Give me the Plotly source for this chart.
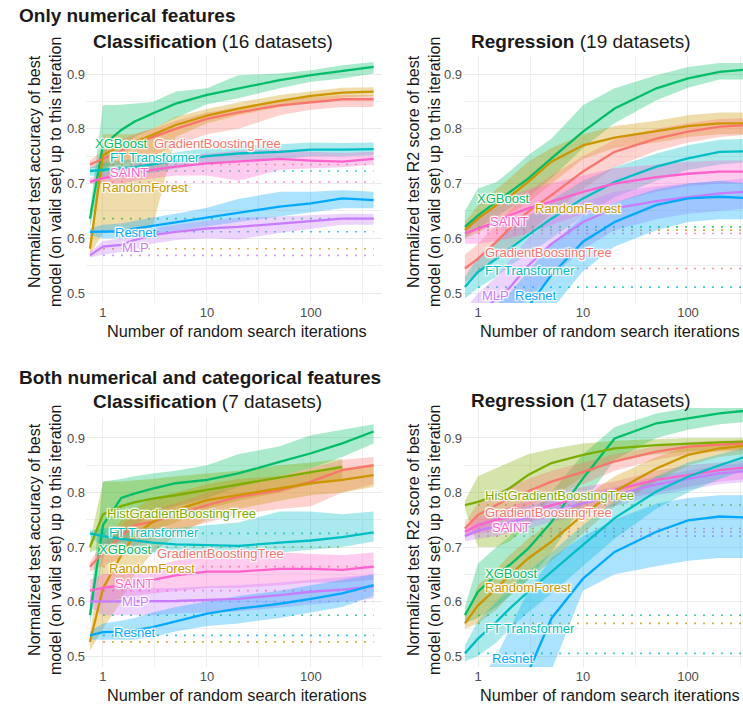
import math
import plotly.graph_objects as go

# ---------------- data ----------------
ITER = [0.75, 1, 1.5, 2, 3, 5, 10, 20, 50, 100, 200, 400]

COLORS = {
    "GradientBoostingTree": "#F8766D",
    "RandomForest": "#CD9600",
    "HistGradientBoostingTree": "#7CAE00",
    "XGBoost": "#00BE67",
    "FT Transformer": "#00BFC4",
    "Resnet": "#00A9FF",
    "MLP": "#C77CFF",
    "SAINT": "#FF61CC",
}

# Panel A: only numerical, classification (16 datasets)
A_XGB = [0.636, 0.770, 0.798, 0.813, 0.828, 0.846, 0.862, 0.874, 0.889, 0.898, 0.905, 0.913]
A_XGB_LO = [0.62, 0.72, 0.76, 0.785, 0.80, 0.82, 0.845, 0.856, 0.874, 0.886, 0.892, 0.901]
A_XGB_HI = [0.65, 0.843, 0.844, 0.846, 0.849, 0.868, 0.874, 0.898, 0.901, 0.907, 0.916, 0.922]
A_GBT = [0.735, 0.745, 0.76, 0.77, 0.785, 0.80, 0.818, 0.83, 0.843, 0.849, 0.854, 0.854]
A_GBT_LO = [0.728, 0.73, 0.735, 0.74, 0.75, 0.77, 0.79, 0.80, 0.825, 0.835, 0.84, 0.84]
A_GBT_HI = [0.742, 0.76, 0.78, 0.79, 0.80, 0.815, 0.83, 0.84, 0.852, 0.858, 0.862, 0.862]
A_RF = [0.581, 0.752, 0.770, 0.776, 0.789, 0.807, 0.824, 0.837, 0.851, 0.860, 0.866, 0.868]
A_RF_LO = [0.57, 0.61, 0.615, 0.615, 0.62, 0.785, 0.81, 0.825, 0.84, 0.85, 0.857, 0.86]
A_RF_HI = [0.59, 0.79, 0.79, 0.79, 0.80, 0.822, 0.836, 0.848, 0.862, 0.869, 0.875, 0.876]
A_FT = [0.723, 0.725, 0.728, 0.73, 0.735, 0.742, 0.75, 0.755, 0.758, 0.762, 0.762, 0.763]
A_FT_LO = [0.715, 0.712, 0.715, 0.717, 0.72, 0.728, 0.737, 0.742, 0.745, 0.75, 0.75, 0.752]
A_FT_HI = [0.73, 0.738, 0.742, 0.745, 0.75, 0.757, 0.765, 0.77, 0.772, 0.775, 0.774, 0.775]
A_SAINT = [0.703, 0.71, 0.715, 0.72, 0.725, 0.731, 0.737, 0.741, 0.745, 0.742, 0.740, 0.745]
A_SAINT_LO = [0.70, 0.70, 0.70, 0.705, 0.71, 0.715, 0.715, 0.705, 0.725, 0.728, 0.73, 0.735]
A_SAINT_HI = [0.71, 0.72, 0.73, 0.735, 0.745, 0.75, 0.755, 0.76, 0.762, 0.758, 0.756, 0.758]
A_RESNET = [0.612, 0.612, 0.613, 0.618, 0.623, 0.630, 0.639, 0.647, 0.658, 0.664, 0.673, 0.670]
A_RESNET_LO = [0.605, 0.60, 0.60, 0.603, 0.607, 0.613, 0.622, 0.630, 0.640, 0.648, 0.655, 0.655]
A_RESNET_HI = [0.618, 0.625, 0.627, 0.632, 0.638, 0.645, 0.656, 0.672, 0.685, 0.685, 0.688, 0.685]
A_MLP = [0.569, 0.585, 0.588, 0.597, 0.606, 0.612, 0.618, 0.621, 0.627, 0.631, 0.636, 0.636]
A_MLP_LO = [0.565, 0.57, 0.575, 0.58, 0.59, 0.597, 0.60, 0.598, 0.61, 0.618, 0.625, 0.625]
A_MLP_HI = [0.575, 0.595, 0.60, 0.61, 0.618, 0.625, 0.632, 0.638, 0.64, 0.642, 0.645, 0.645]

# Panel B: only numerical, regression (19 datasets)
B_XGB = [0.621, 0.642, 0.667, 0.685, 0.709, 0.746, 0.795, 0.837, 0.874, 0.892, 0.904, 0.909]
B_XGB_LO = [0.60, 0.618, 0.64, 0.655, 0.675, 0.71, 0.765, 0.81, 0.852, 0.875, 0.89, 0.89]
B_XGB_HI = [0.65, 0.691, 0.703, 0.722, 0.752, 0.782, 0.843, 0.874, 0.898, 0.913, 0.92, 0.92]
B_RF = [0.615, 0.636, 0.661, 0.676, 0.703, 0.74, 0.770, 0.784, 0.796, 0.805, 0.81, 0.81]
B_RF_LO = [0.60, 0.61, 0.63, 0.645, 0.665, 0.70, 0.745, 0.765, 0.775, 0.785, 0.79, 0.79]
B_RF_HI = [0.63, 0.66, 0.69, 0.71, 0.74, 0.765, 0.79, 0.805, 0.815, 0.825, 0.83, 0.83]
B_GBT = [0.545, 0.563, 0.594, 0.618, 0.649, 0.679, 0.722, 0.758, 0.782, 0.795, 0.804, 0.807]
B_GBT_LO = [0.52, 0.535, 0.56, 0.58, 0.61, 0.645, 0.69, 0.73, 0.76, 0.775, 0.785, 0.79]
B_GBT_HI = [0.57, 0.59, 0.625, 0.65, 0.685, 0.715, 0.75, 0.78, 0.80, 0.81, 0.818, 0.82]
B_FT = [0.511, 0.539, 0.563, 0.581, 0.606, 0.636, 0.673, 0.703, 0.731, 0.746, 0.758, 0.759]
B_FT_LO = [0.49, 0.51, 0.53, 0.55, 0.57, 0.60, 0.64, 0.675, 0.705, 0.725, 0.735, 0.74]
B_FT_HI = [0.53, 0.565, 0.595, 0.615, 0.64, 0.67, 0.705, 0.73, 0.755, 0.77, 0.78, 0.782]
B_SAINT = [0.609, 0.618, 0.630, 0.642, 0.655, 0.667, 0.685, 0.700, 0.712, 0.718, 0.722, 0.722]
B_SAINT_LO = [0.59, 0.59, 0.595, 0.60, 0.61, 0.625, 0.645, 0.665, 0.685, 0.695, 0.70, 0.70]
B_SAINT_HI = [0.625, 0.645, 0.66, 0.675, 0.69, 0.70, 0.715, 0.728, 0.735, 0.74, 0.742, 0.742]
B_MLP = [0.44, 0.46, 0.49, 0.51, 0.55, 0.59, 0.63, 0.655, 0.668, 0.675, 0.682, 0.686]
B_MLP_LO = [0.40, 0.42, 0.44, 0.46, 0.49, 0.53, 0.58, 0.615, 0.635, 0.645, 0.65, 0.655]
B_MLP_HI = [0.47, 0.50, 0.53, 0.56, 0.60, 0.635, 0.665, 0.685, 0.695, 0.70, 0.705, 0.71]
B_RESNET = [0.38, 0.40, 0.43, 0.45, 0.475, 0.533, 0.594, 0.630, 0.661, 0.673, 0.676, 0.673]
B_RESNET_LO = [0.34, 0.36, 0.38, 0.40, 0.42, 0.47, 0.54, 0.585, 0.615, 0.63, 0.635, 0.635]
B_RESNET_HI = [0.42, 0.45, 0.48, 0.50, 0.54, 0.59, 0.64, 0.665, 0.69, 0.70, 0.705, 0.70]

# Panel C: numerical + categorical, classification (7 datasets)
C_XGB = [0.575, 0.74, 0.79, 0.798, 0.807, 0.817, 0.823, 0.835, 0.856, 0.872, 0.89, 0.912]
C_XGB_LO = [0.56, 0.68, 0.72, 0.74, 0.76, 0.775, 0.79, 0.81, 0.83, 0.845, 0.865, 0.89]
C_XGB_HI = [0.59, 0.82, 0.825, 0.83, 0.835, 0.84, 0.85, 0.87, 0.885, 0.905, 0.915, 0.925]
C_HGBT = [0.70, 0.76, 0.775, 0.782, 0.789, 0.795, 0.805, 0.815, 0.828, 0.838, 0.847]
C_HGBT_LO = [0.69, 0.70, 0.71, 0.72, 0.73, 0.745, 0.77, 0.785, 0.80, 0.815, 0.825]
C_HGBT_HI = [0.71, 0.82, 0.82, 0.822, 0.825, 0.83, 0.835, 0.84, 0.85, 0.855, 0.862]
C_GBT = [0.664, 0.69, 0.72, 0.74, 0.746, 0.759, 0.777, 0.792, 0.804, 0.82, 0.841, 0.85]
C_GBT_LO = [0.655, 0.665, 0.68, 0.70, 0.715, 0.73, 0.745, 0.76, 0.77, 0.775, 0.80, 0.815]
C_GBT_HI = [0.672, 0.71, 0.74, 0.76, 0.77, 0.78, 0.80, 0.815, 0.83, 0.845, 0.86, 0.865]
C_RF = [0.526, 0.624, 0.685, 0.722, 0.746, 0.768, 0.786, 0.795, 0.807, 0.817, 0.823, 0.832]
C_RF_LO = [0.51, 0.55, 0.60, 0.65, 0.69, 0.72, 0.75, 0.77, 0.785, 0.795, 0.80, 0.81]
C_RF_HI = [0.54, 0.70, 0.75, 0.77, 0.79, 0.80, 0.815, 0.825, 0.83, 0.84, 0.845, 0.85]
C_FT = [0.725, 0.72, 0.715, 0.712, 0.708, 0.705, 0.703, 0.702, 0.708, 0.712, 0.718, 0.727]
C_FT_LO = [0.72, 0.70, 0.695, 0.69, 0.69, 0.688, 0.685, 0.685, 0.69, 0.695, 0.70, 0.71]
C_FT_HI = [0.73, 0.735, 0.735, 0.735, 0.735, 0.735, 0.74, 0.745, 0.765, 0.765, 0.76, 0.765]
C_SAINT = [0.62, 0.625, 0.63, 0.635, 0.64, 0.648, 0.655, 0.655, 0.66, 0.66, 0.658, 0.664]
C_SAINT_LO = [0.60, 0.60, 0.605, 0.61, 0.615, 0.62, 0.625, 0.625, 0.63, 0.635, 0.635, 0.64]
C_SAINT_HI = [0.64, 0.65, 0.655, 0.66, 0.665, 0.675, 0.685, 0.69, 0.69, 0.688, 0.685, 0.69]
C_MLP = [0.60, 0.60, 0.60, 0.60, 0.60, 0.601, 0.603, 0.605, 0.612, 0.618, 0.622, 0.628]
C_MLP_LO = [0.59, 0.575, 0.575, 0.575, 0.575, 0.578, 0.58, 0.582, 0.59, 0.595, 0.60, 0.605]
C_MLP_HI = [0.61, 0.625, 0.625, 0.625, 0.625, 0.625, 0.628, 0.63, 0.635, 0.64, 0.645, 0.65]
C_RESNET = [0.538, 0.544, 0.545, 0.547, 0.553, 0.563, 0.578, 0.587, 0.596, 0.605, 0.615, 0.63]
C_RESNET_LO = [0.53, 0.53, 0.53, 0.53, 0.535, 0.545, 0.555, 0.56, 0.57, 0.58, 0.59, 0.61]
C_RESNET_HI = [0.545, 0.56, 0.565, 0.57, 0.58, 0.59, 0.60, 0.61, 0.62, 0.63, 0.64, 0.65]

# Panel D: numerical + categorical, regression (17 datasets)
D_XGB = [0.575, 0.618, 0.649, 0.667, 0.697, 0.746, 0.826, 0.899, 0.927, 0.936, 0.945, 0.951]
D_XGB_LO = [0.56, 0.57, 0.59, 0.61, 0.64, 0.69, 0.78, 0.86, 0.90, 0.915, 0.925, 0.93]
D_XGB_HI = [0.59, 0.67, 0.70, 0.72, 0.76, 0.80, 0.87, 0.92, 0.945, 0.955, 0.96, 0.965]
D_HGBT = [0.777, 0.783, 0.795, 0.808, 0.832, 0.854, 0.869, 0.881, 0.887, 0.890, 0.892, 0.893]
D_HGBT_LO = [0.77, 0.70, 0.70, 0.71, 0.74, 0.79, 0.83, 0.86, 0.87, 0.875, 0.878, 0.88]
D_HGBT_HI = [0.785, 0.83, 0.845, 0.855, 0.87, 0.88, 0.89, 0.895, 0.898, 0.90, 0.90, 0.90]
D_GBT = [0.734, 0.759, 0.777, 0.79, 0.802, 0.82, 0.838, 0.857, 0.875, 0.884, 0.888, 0.89]
D_GBT_LO = [0.72, 0.73, 0.745, 0.76, 0.775, 0.795, 0.815, 0.84, 0.86, 0.87, 0.875, 0.878]
D_GBT_HI = [0.745, 0.78, 0.80, 0.81, 0.825, 0.84, 0.855, 0.87, 0.885, 0.892, 0.895, 0.897]
D_SAINT = [0.728, 0.74, 0.75, 0.755, 0.765, 0.777, 0.792, 0.805, 0.823, 0.832, 0.841, 0.847]
D_SAINT_LO = [0.72, 0.725, 0.73, 0.735, 0.745, 0.755, 0.77, 0.785, 0.80, 0.81, 0.82, 0.825]
D_SAINT_HI = [0.735, 0.755, 0.765, 0.775, 0.785, 0.80, 0.81, 0.82, 0.84, 0.85, 0.855, 0.86]
D_MLP = [0.72, 0.73, 0.738, 0.745, 0.755, 0.765, 0.78, 0.795, 0.815, 0.825, 0.835, 0.84]
D_MLP_LO = [0.71, 0.715, 0.72, 0.725, 0.735, 0.745, 0.76, 0.775, 0.795, 0.805, 0.815, 0.82]
D_MLP_HI = [0.73, 0.745, 0.755, 0.765, 0.775, 0.785, 0.80, 0.81, 0.83, 0.84, 0.85, 0.855]
D_RF = [0.56, 0.593, 0.624, 0.648, 0.679, 0.71, 0.759, 0.802, 0.844, 0.869, 0.881, 0.887]
D_RF_LO = [0.55, 0.56, 0.585, 0.61, 0.64, 0.675, 0.725, 0.775, 0.82, 0.85, 0.865, 0.872]
D_RF_HI = [0.57, 0.63, 0.66, 0.685, 0.715, 0.745, 0.79, 0.83, 0.865, 0.885, 0.893, 0.897]
D_FT = [0.505, 0.532, 0.563, 0.587, 0.618, 0.655, 0.704, 0.753, 0.802, 0.829, 0.85, 0.869]
D_FT_LO = [0.49, 0.50, 0.525, 0.55, 0.58, 0.615, 0.665, 0.715, 0.77, 0.80, 0.825, 0.845]
D_FT_HI = [0.52, 0.565, 0.60, 0.625, 0.655, 0.69, 0.74, 0.785, 0.83, 0.855, 0.87, 0.885]
D_RESNET = [0.30, 0.33, 0.37, 0.40, 0.47, 0.569, 0.642, 0.691, 0.728, 0.749, 0.756, 0.754]
D_RESNET_LO = [0.20, 0.22, 0.25, 0.28, 0.35, 0.47, 0.62, 0.65, 0.665, 0.675, 0.68, 0.68]
D_RESNET_HI = [0.42, 0.45, 0.50, 0.55, 0.62, 0.68, 0.72, 0.75, 0.78, 0.79, 0.795, 0.795]

X_TICKS = [1, 10, 100]
Y_TICKS = [0.5, 0.6, 0.7, 0.8, 0.9]

# ---------------- layout settings ----------------
W, H = 743, 705
FONT = "Liberation Sans, Arial, sans-serif"

def px2x(px):
    return px / W

def py2y(py):
    return 1 - py / H

panels = [
    dict(ax="1", xdom=(86, 382), ydom=(56, 303), xr=(-0.163, 2.683), yr=(0.482, 0.933),
         series=[("XGBoost", A_XGB, A_XGB_LO, A_XGB_HI),
                 ("GradientBoostingTree", A_GBT, A_GBT_LO, A_GBT_HI),
                 ("RandomForest", A_RF, A_RF_LO, A_RF_HI),
                 ("FT Transformer", A_FT, A_FT_LO, A_FT_HI),
                 ("SAINT", A_SAINT, A_SAINT_LO, A_SAINT_HI),
                 ("Resnet", A_RESNET, A_RESNET_LO, A_RESNET_HI),
                 ("MLP", A_MLP, A_MLP_LO, A_MLP_HI)],
         labels=[("XGBoost", 0.80, 0.774), ("GradientBoostingTree", 2.96, 0.774),
                 ("FT Transformer", 1.12, 0.748), ("SAINT", 1.12, 0.721),
                 ("RandomForest", 0.94, 0.692), ("Resnet", 1.25, 0.611), ("MLP", 1.46, 0.584)]),
    dict(ax="2", xdom=(463, 743), ydom=(56, 303), xr=(-0.143, 2.524), yr=(0.482, 0.933),
         series=[("XGBoost", B_XGB, B_XGB_LO, B_XGB_HI),
                 ("RandomForest", B_RF, B_RF_LO, B_RF_HI),
                 ("GradientBoostingTree", B_GBT, B_GBT_LO, B_GBT_HI),
                 ("FT Transformer", B_FT, B_FT_LO, B_FT_HI),
                 ("SAINT", B_SAINT, B_SAINT_LO, B_SAINT_HI),
                 ("MLP", B_MLP, B_MLP_LO, B_MLP_HI),
                 ("Resnet", B_RESNET, B_RESNET_LO, B_RESNET_HI)],
         labels=[("XGBoost", 0.94, 0.673), ("RandomForest", 3.34, 0.655), ("SAINT", 1.25, 0.63),
                 ("GradientBoostingTree", 1.12, 0.575), ("FT Transformer", 1.12, 0.542),
                 ("MLP", 1.04, 0.496), ("Resnet", 2.15, 0.496)]),
    dict(ax="3", xdom=(86, 382), ydom=(417, 667), xr=(-0.163, 2.683), yr=(0.48, 0.9385),
         series=[("XGBoost", C_XGB, C_XGB_LO, C_XGB_HI),
                 ("HistGradientBoostingTree", C_HGBT, C_HGBT_LO, C_HGBT_HI),
                 ("GradientBoostingTree", C_GBT, C_GBT_LO, C_GBT_HI),
                 ("RandomForest", C_RF, C_RF_LO, C_RF_HI),
                 ("FT Transformer", C_FT, C_FT_LO, C_FT_HI),
                 ("SAINT", C_SAINT, C_SAINT_LO, C_SAINT_HI),
                 ("MLP", C_MLP, C_MLP_LO, C_MLP_HI),
                 ("Resnet", C_RESNET, C_RESNET_LO, C_RESNET_HI)],
         labels=[("HistGradientBoostingTree", 1.05, 0.762), ("FT Transformer", 1.09, 0.727),
                 ("XGBoost", 0.875, 0.695), ("GradientBoostingTree", 3.16, 0.689),
                 ("RandomForest", 1.09, 0.66), ("SAINT", 1.25, 0.634), ("MLP", 1.46, 0.60),
                 ("Resnet", 1.22, 0.544)]),
    dict(ax="4", xdom=(463, 743), ydom=(408, 667), xr=(-0.143, 2.524), yr=(0.48, 0.955),
         series=[("XGBoost", D_XGB, D_XGB_LO, D_XGB_HI),
                 ("HistGradientBoostingTree", D_HGBT, D_HGBT_LO, D_HGBT_HI),
                 ("GradientBoostingTree", D_GBT, D_GBT_LO, D_GBT_HI),
                 ("SAINT", D_SAINT, D_SAINT_LO, D_SAINT_HI),
                 ("MLP", D_MLP, D_MLP_LO, D_MLP_HI),
                 ("RandomForest", D_RF, D_RF_LO, D_RF_HI),
                 ("FT Transformer", D_FT, D_FT_LO, D_FT_HI),
                 ("Resnet", D_RESNET, D_RESNET_LO, D_RESNET_HI)],
         labels=[("HistGradientBoostingTree", 1.12, 0.794), ("GradientBoostingTree", 1.12, 0.764),
                 ("SAINT", 1.30, 0.735), ("XGBoost", 1.12, 0.652), ("RandomForest", 1.12, 0.625),
                 ("FT Transformer", 1.12, 0.55), ("Resnet", 1.30, 0.496)]),
]


def rgba(hexc, a):
    h = hexc.lstrip("#")
    r, g, b = int(h[0:2], 16), int(h[2:4], 16), int(h[4:6], 16)
    return f"rgba({r},{g},{b},{a})"


fig = go.Figure()
annotations = []
HALO = "1px 1px 1px #fff, -1px -1px 1px #fff, 1px -1px 1px #fff, -1px 1px 1px #fff, 0px 1px 2px #fff, 0px -1px 2px #fff"

for p in panels:
    xa = "x" if p["ax"] == "1" else "x" + p["ax"]
    ya = "y" if p["ax"] == "1" else "y" + p["ax"]
    # dotted reference lines (value at start)
    for name, y, lo, hi in p["series"]:
        fig.add_trace(go.Scatter(x=[1, ITER[len(y) - 1]], y=[y[0], y[0]], mode="lines",
                                 line=dict(color=COLORS[name], width=1.6, dash="2px,7px"),
                                 opacity=0.75, xaxis=xa, yaxis=ya, hoverinfo="skip", showlegend=False))
    # ribbons
    for name, y, lo, hi in p["series"]:
        xs = ITER[:len(y)]
        fig.add_trace(go.Scatter(x=xs + xs[::-1], y=hi + lo[::-1], mode="lines", fill="toself",
                                 fillcolor=rgba(COLORS[name], 0.33), line=dict(width=0),
                                 xaxis=xa, yaxis=ya, hoverinfo="skip", showlegend=False))
    # lines
    for name, y, lo, hi in p["series"]:
        xs = ITER[:len(y)]
        fig.add_trace(go.Scatter(x=xs, y=y, mode="lines", name=name,
                                 line=dict(color=COLORS[name], width=2.3),
                                 xaxis=xa, yaxis=ya, showlegend=False))
    for name, lx, ly in p["labels"]:
        annotations.append(dict(x=math.log10(lx), y=ly, xref=xa, yref=ya, text=name,
                                showarrow=False, xanchor="left", yanchor="middle",
                                font=dict(family=FONT, size=13, color=COLORS[name], shadow=HALO)))

    axis_common = dict(showline=False, zeroline=False, ticks="", showgrid=True,
                       gridcolor="#EBEBEB", gridwidth=1,
                       tickfont=dict(family=FONT, size=13, color="#4D4D4D"))
    xkey = "xaxis" if p["ax"] == "1" else "xaxis" + p["ax"]
    ykey = "yaxis" if p["ax"] == "1" else "yaxis" + p["ax"]
    fig.update_layout(**{
        xkey: dict(axis_common, type="log", domain=[px2x(p["xdom"][0]), px2x(p["xdom"][1])],
                   range=list(p["xr"]), anchor=ya, tickmode="array", tickvals=X_TICKS,
                   ticktext=[str(v) for v in X_TICKS],
                   minor=dict(tickvals=[3.1623, 31.623, 316.23], showgrid=True,
                              gridcolor="#F0F0F0", gridwidth=0.7)),
        ykey: dict(axis_common, domain=[py2y(p["ydom"][1]), py2y(p["ydom"][0])],
                   range=list(p["yr"]), anchor=xa, tickmode="array", tickvals=Y_TICKS,
                   ticktext=[f"{v:.1f}" for v in Y_TICKS],
                   minor=dict(tickvals=[0.55, 0.65, 0.75, 0.85], showgrid=True,
                              gridcolor="#F0F0F0", gridwidth=0.7)),
    })

# titles
def ptext(text, px, py, size, xanchor="left", angle=0, color="#1A1A1A"):
    annotations.append(dict(x=px2x(px), y=py2y(py), xref="paper", yref="paper", text=text,
                            showarrow=False, xanchor=xanchor, yanchor="middle", textangle=angle,
                            font=dict(family=FONT, size=size, color=color)))

ptext("<b>Only numerical features</b>", 17, 15, 19)
ptext("<b>Classification</b> (16 datasets)", 91, 42, 19)
ptext("<b>Regression</b> (19 datasets)", 469, 42, 19)
ptext("<b>Both numerical and categorical features</b>", 17, 377, 19)
ptext("<b>Classification</b> (7 datasets)", 91, 401, 19)
ptext("<b>Regression</b> (17 datasets)", 469, 400, 19)

YT_CLS = "Normalized test accuracy of best<br>model (on valid set) up to this iteration"
YT_REG = "Normalized test R2 score of best<br>model (on valid set) up to this iteration"
ptext(YT_CLS, 45, 172, 16, xanchor="center", angle=-90)
ptext(YT_REG, 424, 172, 16, xanchor="center", angle=-90)
ptext(YT_CLS, 45, 540, 16, xanchor="center", angle=-90)
ptext(YT_REG, 424, 540, 16, xanchor="center", angle=-90)

XT = "Number of random search iterations"
ptext(XT, 237, 331, 16.3, xanchor="center")
ptext(XT, 610, 331, 16.3, xanchor="center")
ptext(XT, 237, 695, 16.3, xanchor="center")
ptext(XT, 610, 695, 16.3, xanchor="center")

fig.update_layout(width=W, height=H, autosize=False, margin=dict(l=0, r=0, t=0, b=0),
                  paper_bgcolor="white", plot_bgcolor="white", showlegend=False,
                  annotations=annotations, font=dict(family=FONT))

fig.write_html("out.html", config={"displayModeBar": False},
               post_script="document.body.style.margin='0';document.body.style.overflow='hidden';")
